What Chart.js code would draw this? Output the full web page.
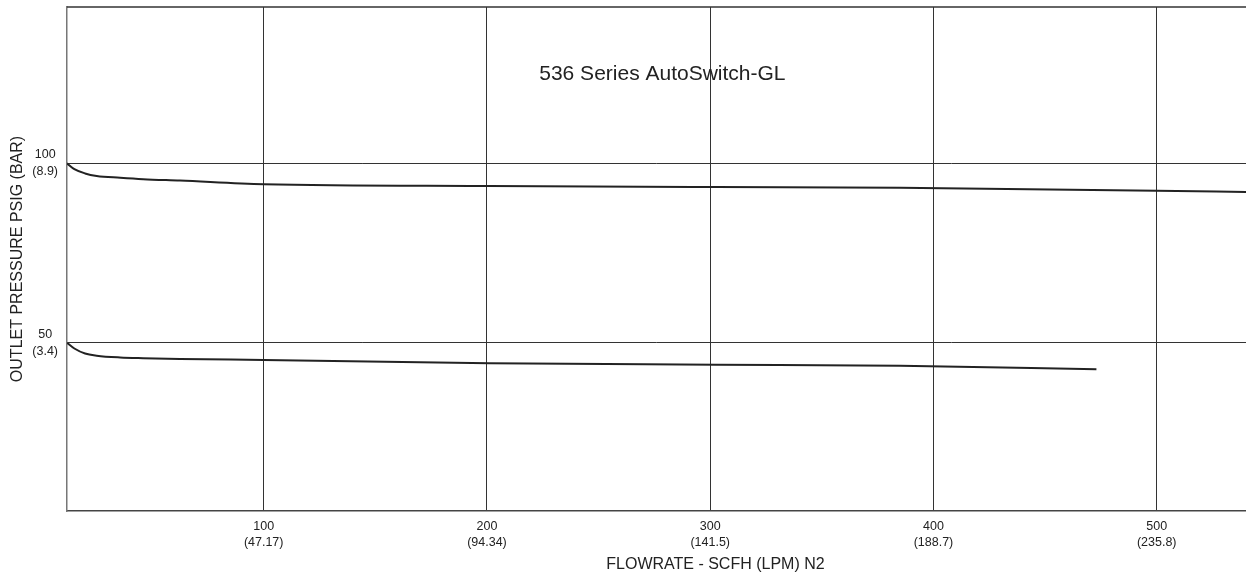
<!DOCTYPE html>
<html lang="en">
<head>
    <meta charset="UTF-8" />
    <title>536 Series AutoSwitch-GL</title>
    <script src="https://cdn.jsdelivr.net/npm/chart.js"></script>
    <style>
        html, body { margin: 0; padding: 0; background: #fff; }
        #wrap { width: 1246px; height: 576px; position: relative; }
    </style>
</head>
<body>
<div id="wrap"><canvas id="flowChart"></canvas></div>

<script>
    // values
    const flowTicks = [100, 200, 300, 400, 500];
    const flowTickLpm = ['(47.17)', '(94.34)', '(141.5)', '(188.7)', '(235.8)'];
    const psigTicks = [50, 100];
    const psigTickBar = ['(3.4)', '(8.9)'];

    const flowUpper = [11.9, 15.2, 20, 25.2, 35.7, 46, 62.5, 100, 201, 302.5, 385, 500, 540];
    const psigUpper = [100, 98.4, 97.2, 96.5, 96.0, 95.6, 95.2, 94.2, 93.7, 93.4, 93.2, 92.4, 92.0];

    const flowLower = [11.9, 15.2, 20, 25.2, 35.7, 46, 62.5, 100, 201, 302.5, 385, 473];
    const psigLower = [50, 48.4, 47.0, 46.4, 45.9, 45.7, 45.5, 45.2, 44.3, 43.9, 43.6, 42.6];

    const FONT = '"Liberation Sans", Arial, Helvetica, sans-serif';
    const INK = '#222';

    const toPoints = (xs, ys) => xs.map((x, i) => ({ x: x, y: ys[i] }));

    // title inside the plot, top frame line, x axis title
    const extras = {
        id: 'extras',
        afterDraw(chart) {
            const { ctx, chartArea } = chart;
            ctx.save();
            ctx.strokeStyle = '#333';
            ctx.lineWidth = 1.5;
            ctx.beginPath();
            ctx.moveTo(chartArea.left, chartArea.top);
            ctx.lineTo(chartArea.right, chartArea.top);
            ctx.stroke();

            ctx.fillStyle = INK;
            ctx.textAlign = 'center';
            ctx.textBaseline = 'alphabetic';
            ctx.font = '21px ' + FONT;
            ctx.fillText('536 Series AutoSwitch-GL', chartArea.left + chartArea.width * 0.505, 80);

            ctx.font = '16px ' + FONT;
            ctx.fillText('FLOWRATE - SCFH (LPM) N2', chartArea.left + chartArea.width * 0.55, 569);
            ctx.restore();
        }
    };

    new Chart(document.getElementById('flowChart'), {
        type: 'scatter',
        data: {
            datasets: [
                { label: '100 psig', data: toPoints(flowUpper, psigUpper) },
                { label: '50 psig', data: toPoints(flowLower, psigLower) }
            ]
        },
        options: {
            responsive: true,
            maintainAspectRatio: false,
            animation: false,
            devicePixelRatio: 1,
            layout: { padding: { top: 7, right: 0, left: 0, bottom: 0 } },
            elements: {
                point: { radius: 0, hoverRadius: 0 },
                line: { borderColor: INK, borderWidth: 2, cubicInterpolationMode: 'monotone' }
            },
            datasets: { scatter: { showLine: true } },
            plugins: {
                legend: { display: false },
                tooltip: { enabled: false }
            },
            scales: {
                x: {
                    type: 'linear',
                    min: 11.9,
                    max: 540,
                    afterBuildTicks: s => { s.ticks = flowTicks.map(v => ({ value: v })); },
                    afterFit: s => { s.height = 65; s.paddingLeft = 0; s.paddingRight = 0; },
                    grid: { color: '#333', lineWidth: 1, drawTicks: false },
                    border: { display: true, color: '#444', width: 1.5 },
                    ticks: {
                        color: INK,
                        font: { family: FONT, size: 12.5, lineHeight: 1.3 },
                        padding: 7,
                        maxRotation: 0,
                        callback: v => [String(v), flowTickLpm[flowTicks.indexOf(v)]]
                    }
                },
                y: {
                    type: 'linear',
                    min: 3.1,
                    max: 143.6,
                    afterBuildTicks: s => { s.ticks = psigTicks.map(v => ({ value: v })); },
                    afterFit: s => { s.width = 67; s.paddingTop = 0; s.paddingBottom = 0; },
                    grid: { color: '#333', lineWidth: 1, drawTicks: false },
                    border: { display: true, color: '#777', width: 1.5 },
                    ticks: {
                        color: INK,
                        font: { family: FONT, size: 12.5, lineHeight: 1.35 },
                        padding: 9,
                        crossAlign: 'center',
                        callback: v => [String(v), psigTickBar[psigTicks.indexOf(v)]]
                    },
                    title: {
                        display: true,
                        text: 'OUTLET PRESSURE PSIG (BAR)',
                        color: INK,
                        font: { family: FONT, size: 16 },
                        padding: { top: 8, bottom: 0 }
                    }
                }
            }
        },
        plugins: [extras]
    });
</script>
</body>
</html>
